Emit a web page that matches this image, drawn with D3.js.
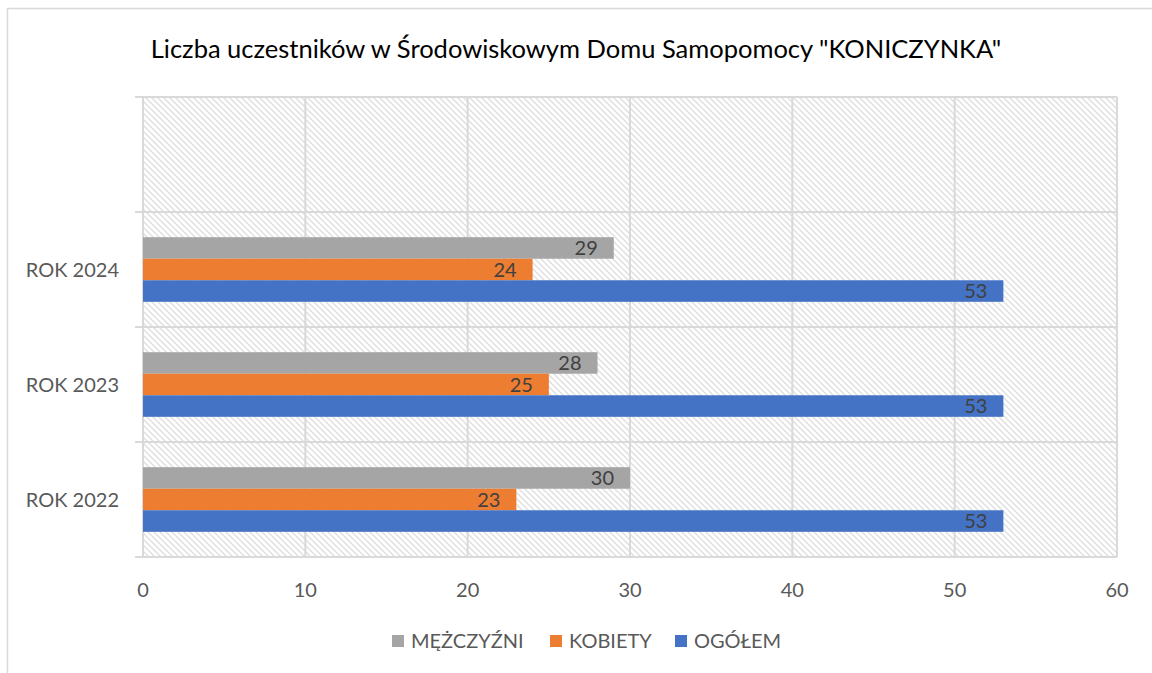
<!DOCTYPE html>
<html>
<head>
<meta charset="utf-8">
<script src="https://cdn.jsdelivr.net/npm/d3@7"></script>
<style>
  body { margin: 0; background: #fff; }
  text { font-family: Lato, "Open Sans", sans-serif; }
</style>
</head>
<body>
<div id="graph"></div>
<script>
const categories = ["ROK 2022", "ROK 2023", "ROK 2024", ""];
const seriesNames = ["MĘŻCZYŹNI", "KOBIETY", "OGÓŁEM"];
const menValues = [30, 28, 29];
const womenValues = [23, 25, 24];
const totalValues = [53, 53, 53];
const xTicks = [0, 10, 20, 30, 40, 50, 60];

const colors = ["#a5a5a5", "#ed7d31", "#4472c4"];
const series = [menValues, womenValues, totalValues];

const width = 1152, height = 673;
const plot = { left: 143, right: 1117, top: 97, bottom: 557 };

const svg = d3.select("#graph").append("svg")
  .attr("width", width)
  .attr("height", height);

// chart frame (runs off the right and bottom edges)
svg.append("rect")
  .attr("x", 7.5).attr("y", 8.5)
  .attr("width", 1200).attr("height", 700)
  .attr("fill", "#fff")
  .attr("stroke", "#d9d9d9")
  .attr("stroke-width", 1.5);

// hatch pattern for the plot area
const defs = svg.append("defs");
const pat = defs.append("pattern")
  .attr("id", "hatch")
  .attr("patternUnits", "userSpaceOnUse")
  .attr("width", 6).attr("height", 6);
pat.append("rect").attr("width", 6).attr("height", 6).attr("fill", "#fff");
pat.append("path")
  .attr("d", "M-1,-1 L7,7 M-4,2 L2,8 M4,-2 L8,2")
  .attr("stroke", "#e0e0e0")
  .attr("stroke-width", 1.5);

const x = d3.scaleLinear()
  .domain([0, 60])
  .range([plot.left, plot.right]);

const y = d3.scaleBand()
  .domain(categories)
  .range([plot.bottom, plot.top]);

svg.append("rect")
  .attr("x", plot.left).attr("y", plot.top)
  .attr("width", plot.right - plot.left)
  .attr("height", plot.bottom - plot.top)
  .attr("fill", "url(#hatch)");

// vertical gridlines
svg.selectAll(".vgrid")
  .data(xTicks)
  .join("line")
  .attr("class", "vgrid")
  .attr("x1", d => x(d)).attr("x2", d => x(d))
  .attr("y1", plot.top).attr("y2", plot.bottom)
  .attr("stroke", "#d9d9d9")
  .attr("stroke-width", 2);

// horizontal lines between categories
const bounds = categories.map(c => y(c)).concat([plot.bottom]);
svg.selectAll(".hgrid")
  .data(bounds)
  .join("line")
  .attr("class", "hgrid")
  .attr("x1", plot.left - 8).attr("x2", plot.right)
  .attr("y1", d => d).attr("y2", d => d)
  .attr("stroke", "#d9d9d9")
  .attr("stroke-width", 2);

// bars
const inner = d3.scaleBand()
  .domain([0, 1, 2])
  .range([0, y.bandwidth()])
  .paddingOuter(1.17)
  .paddingInner(0);

series.forEach((vals, si) => {
  const g = svg.append("g");
  const rows = vals.map((v, i) => ({ cat: categories[i], v }));
  g.selectAll("rect")
    .data(rows)
    .join("rect")
    .attr("x", x(0))
    .attr("y", d => y(d.cat) + inner(si))
    .attr("width", d => x(d.v) - x(0))
    .attr("height", inner.bandwidth())
    .attr("fill", colors[si]);
  g.selectAll("text")
    .data(rows)
    .join("text")
    .attr("x", d => x(d.v) - 16)
    .attr("y", d => y(d.cat) + inner(si) + inner.bandwidth() / 2)
    .attr("dy", "0.36em")
    .attr("text-anchor", "end")
    .attr("font-size", 20)
    .attr("fill", "#404040")
    .text(d => d.v);
});

// category labels
svg.selectAll(".cat")
  .data(categories)
  .join("text")
  .attr("class", "cat")
  .attr("x", 119)
  .attr("y", d => y(d) + y.bandwidth() / 2)
  .attr("dy", "0.36em")
  .attr("text-anchor", "end")
  .attr("font-size", 20)
  .attr("fill", "#595959")
  .text(d => d);

// x tick labels
svg.selectAll(".xt")
  .data(xTicks)
  .join("text")
  .attr("class", "xt")
  .attr("x", d => x(d))
  .attr("y", 590)
  .attr("dy", "0.36em")
  .attr("text-anchor", "middle")
  .attr("font-size", 20)
  .attr("fill", "#595959")
  .text(d => d);

// title
svg.append("text")
  .attr("x", 576)
  .attr("y", 49)
  .attr("dy", "0.36em")
  .attr("text-anchor", "middle")
  .attr("font-size", 25.5)
  .attr("fill", "#000")
  .text('Liczba uczestników w Środowiskowym Domu Samopomocy "KONICZYNKA"');

// legend
const legendX = [392, 550, 675];
const legend = svg.selectAll(".leg")
  .data(seriesNames)
  .join("g")
  .attr("class", "leg")
  .attr("transform", (d, i) => `translate(${legendX[i]},641)`);
legend.append("rect")
  .attr("x", 0).attr("y", -6)
  .attr("width", 12).attr("height", 12)
  .attr("fill", (d, i) => colors[i]);
legend.append("text")
  .attr("x", 19)
  .attr("dy", "0.36em")
  .attr("font-size", 20)
  .attr("fill", "#595959")
  .text(d => d);
</script>
</body>
</html>
